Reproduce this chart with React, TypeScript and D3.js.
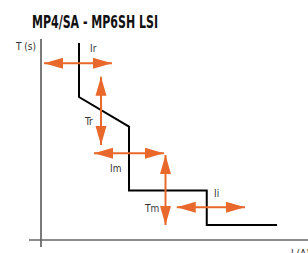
import React from 'react'
import * as d3 from 'd3'

// trip curve in schematic units (x: current, y: time)
const curveX = [15.2, 15.2, 35.2, 35.2, 66.3, 66.3, 94.4]
const curveY = [98.5, 71.5, 56.7, 24.7, 24.7, 7.5, 7.5]

// adjustment arrows: [x1, y1, x2, y2]
const arrowNames = ['Ir', 'Tr', 'Im', 'Tm', 'Ii']
const arrowX1 = [1.2, 24.0, 21.2, 49.8, 54.3]
const arrowY1 = [88.35, 81.65, 43.35, 42.5, 16.35]
const arrowX2 = [28.4, 24.0, 49.2, 49.8, 81.6]
const arrowY2 = [88.35, 47.5, 43.35, 7.5, 16.35]

// setting labels: [x, y] baseline
const labelX = [19.6, 17.6, 27.6, 41.6, 69.2]
const labelY = [94, 57.5, 34.2, 14.2, 21.7]

const title = 'MP4/SA - MP6SH LSI'
const yTitle = 'T (s)'
const xTitle = 'I (A)'

const orange = '#e8692b'

export default function App() {
  const width = 308
  const height = 253
  const x = d3.scaleLinear().domain([0, 100]).range([41, 291])
  const y = d3.scaleLinear().domain([0, 100]).range([240, 40])

  const line = d3.line<number>().x((_, i) => x(curveX[i])).y((_, i) => y(curveY[i]))

  const head = (x1: number, y1: number, x2: number, y2: number) => {
    // arrowhead with tip at (x2, y2) pointing away from (x1, y1)
    const len = 19
    const hw = 5.5
    const dx = x2 - x1
    const dy = y2 - y1
    const d = Math.sqrt(dx * dx + dy * dy)
    const ux = dx / d
    const uy = dy / d
    const bx = x2 - ux * len
    const by = y2 - uy * len
    return `${x2},${y2} ${bx - uy * hw},${by + ux * hw} ${bx + uy * hw},${by - ux * hw}`
  }

  const font = "'Liberation Sans Narrow', 'DejaVu Sans Condensed', sans-serif"

  return (
    <svg width={width} height={height} style={{ position: 'absolute', left: 0, top: 0 }}>
      <text x={32} y={28} fontFamily="'DejaVu Sans Condensed', 'Liberation Sans Narrow', sans-serif"
        fontWeight="bold" fontSize={17} fill="#111"
        textLength={126} lengthAdjust="spacingAndGlyphs">{title}</text>
      <text x={16} y={50} fontFamily={font} fontSize={10} fill="#333">{yTitle}</text>
      <text x={291} y={257} fontFamily={font} fontSize={10} fill="#333">{xTitle}</text>

      <line x1={x(0)} x2={x(0)} y1={39} y2={247} stroke="#222" strokeWidth={1.2} />
      <line x1={29} x2={308} y1={y(0)} y2={y(0)} stroke="#666" strokeWidth={1.5} />

      <path d={line(curveX) || ''} fill="none" stroke="#000" strokeWidth={2} />

      {arrowNames.map((name, i) => {
        const x1 = x(arrowX1[i])
        const y1 = y(arrowY1[i])
        const x2 = x(arrowX2[i])
        const y2 = y(arrowY2[i])
        return (
          <g key={name}>
            <line x1={x1} y1={y1} x2={x2} y2={y2} stroke={orange} strokeWidth={2} />
            <polygon points={head(x1, y1, x2, y2)} fill={orange} />
            <polygon points={head(x2, y2, x1, y1)} fill={orange} />
            <text x={x(labelX[i])} y={y(labelY[i])} fontFamily={font} fontSize={10} fill="#333">{name}</text>
          </g>
        )
      })}
    </svg>
  )
}
